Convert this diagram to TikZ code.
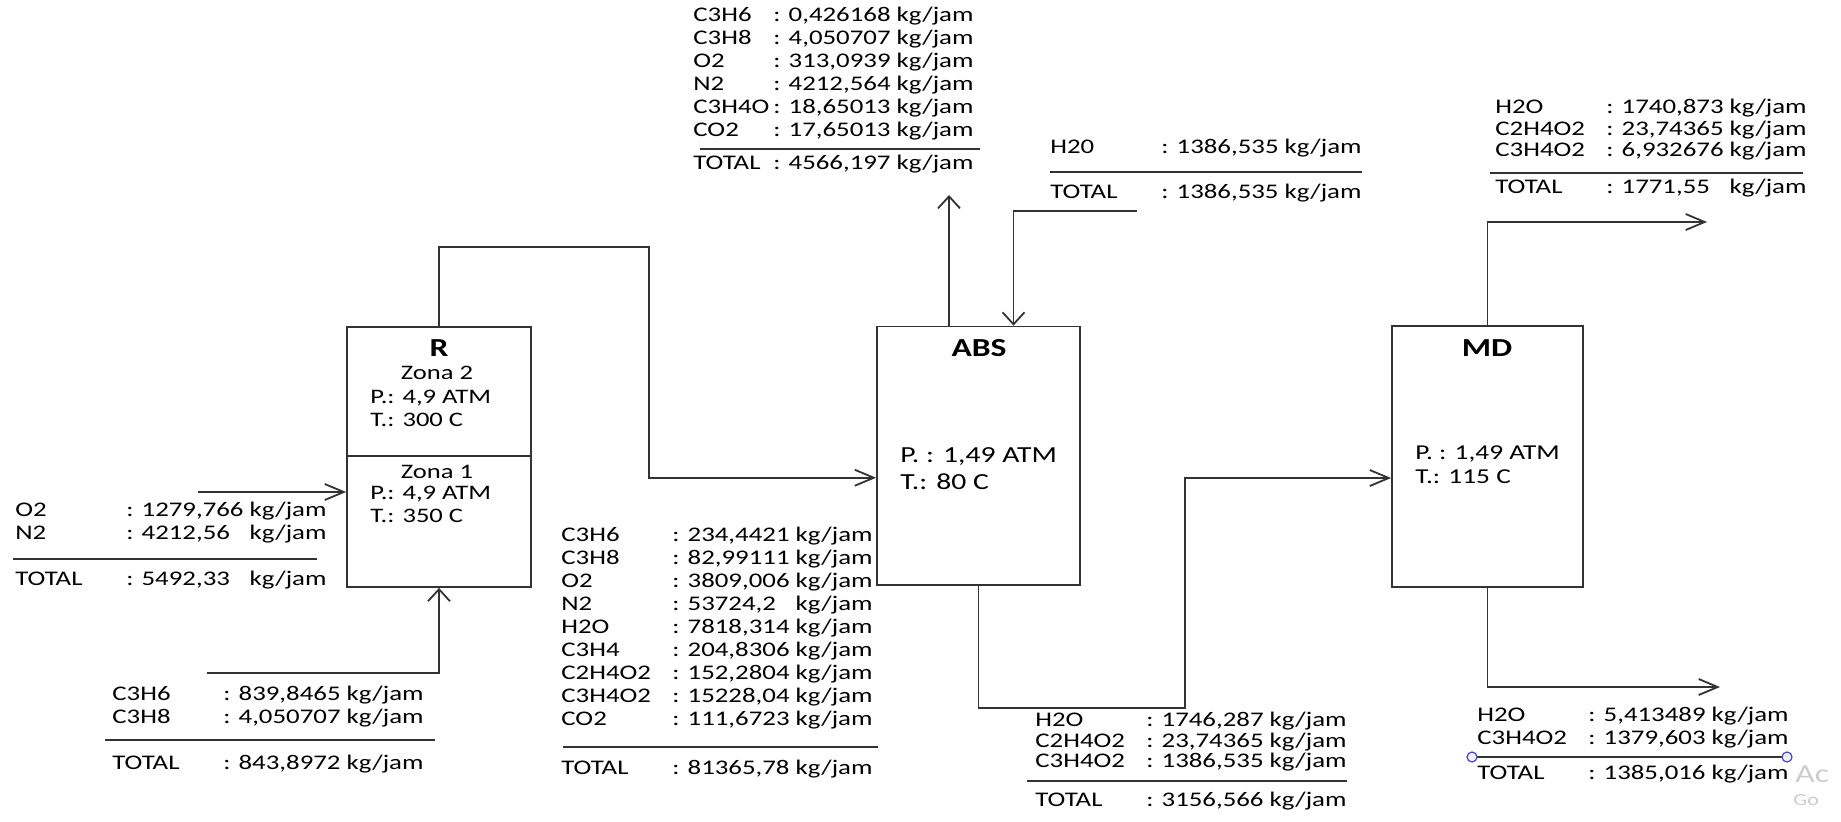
\documentclass[tikz,border=0pt]{standalone}
\usepackage{fontspec}
\setmainfont{Carlito}[FakeStretch=1.29]
\usetikzlibrary{arrows.meta,positioning,calc}
\definecolor{linec}{HTML}{333333}
\newcommand{\val}[1]{\rlap{#1}\phantom{0000,000}}

\begin{document}
\begin{tikzpicture}[
  x=0.5pt, y=-0.5pt,
  unit/.style={rectangle, draw=linec, line width=0.9pt, inner sep=0pt},
  title/.style={inner sep=0pt, anchor=base, font=\fontsize{13}{15}\selectfont\bfseries},
  zone/.style={inner sep=0pt, anchor=base, font=\fontsize{10.3}{11.5}\selectfont},
  cond/.style={inner sep=0pt, anchor=base west, font=\fontsize{10.3}{11.5}\selectfont},
  stream/.style={inner sep=0pt, anchor=base west, font=\fontsize{10.4}{11.5}\selectfont},
  rule/.style={draw=linec, line width=0.8pt},
  handle/.style={draw=blue!45!gray, fill=blue!6, line width=0.6pt},
  flowh/.style={draw=linec, line width=0.9pt, -{Straight Barb[length=9.5pt,width=8pt]}},
  flowv/.style={draw=linec, line width=0.9pt, -{Straight Barb[length=6pt,width=11pt]}},
]
\fill[white] (0,0) rectangle (1841,821);
\useasboundingbox (0,0) rectangle (1841,821);

%% Units
\node[unit, minimum width=92pt, minimum height=64.5pt] (R2) at (439,391.5) {};
\node[unit, minimum width=92pt, minimum height=65.5pt, below=-0.9pt of R2] (R1) {};
\node[unit, minimum width=101.5pt, minimum height=129.25pt] (ABS) at (978.5,455.75) {};
\node[unit, minimum width=95.5pt, minimum height=130.5pt] (MD) at (1487.5,456.5) {};

%% Unit texts
\node[title] (rT) at (439,356) {R};
\node[zone] (z2) at (437,379.5) {Zona 2};
\node[cond] (z2c) at (370,403.5) {\begin{tabular}[t]{@{}l@{}}P.: 4,9 ATM\\T.: 300 C\end{tabular}};
\node[zone] (z1) at (437,478.5) {Zona 1};
\node[cond] (z1c) at (370,499.5) {\begin{tabular}[t]{@{}l@{}}P.: 4,9 ATM\\T.: 350 C\end{tabular}};

\node[title] (absT) at (979,356) {ABS};
\node[cond, font=\fontsize{11.5}{13.5}\selectfont] (absC) at (900,462.5)
  {\begin{tabular}[t]{@{}l@{}}P. : 1,49 ATM\\T.: 80 C\end{tabular}};

\node[title] (mdT) at (1487,356) {MD};
\node[cond, font=\fontsize{10.6}{12}\selectfont] (mdC) at (1415,459.5)
  {\begin{tabular}[t]{@{}l@{}}P. : 1,49 ATM\\T.: 115 C\end{tabular}};

%% Stream ends
\coordinate (airIn)   at (198,492);
\coordinate (c3In)    at (207,673);
\coordinate (rOut)    at (649,247);
\coordinate (ventOut) at (949,195);
\coordinate (waterIn) at (1137,211);
\coordinate (absTurn) at (1185,708);
\coordinate (mdTop)   at (1707,222);
\coordinate (mdBot)   at (1720,687);

%% Streams
\draw[flowh] (airIn) -- (airIn -| R1.west);
\draw[flowv] (c3In) -| (R1.south);
\draw[flowh] (R2.north) |- (rOut) |- ($(ABS.west)+(0,22)$);
\draw[flowv] (ventOut |- ABS.north) -- (ventOut);
\draw[flowv] (waterIn) -| ($(ABS.north)+(35,0)$);
\draw[flowh] (ABS.south) |- (absTurn) |- ($(MD.west)+(0,21.5)$);
\draw[flowh] (MD.north) |- (mdTop);
\draw[flowh] (MD.south) |- (mdBot);

%% Vent gas (ABS top)
\node[stream] (vent) at (693,21.5) {\begin{tabular}[t]{@{}p{40pt}@{}l@{}}
C3H6  & : \val{0,426168} kg/jam\\
C3H8  & : \val{4,050707} kg/jam\\
O2    & : \val{313,0939} kg/jam\\
N2    & : \val{4212,564} kg/jam\\
C3H4O & : \val{18,65013} kg/jam\\
CO2   & : \val{17,65013} kg/jam
\end{tabular}};
\draw[rule] (700,149) -- (980,149);
\node[stream] (ventTot) at (693,169.5) {\makebox[40pt][l]{TOTAL}: \val{4566,197} kg/jam};

%% Water in
\node[stream] (water) at (1050,153.5) {\makebox[55.5pt][l]{H20}: \val{1386,535}\ kg/jam};
\draw[rule] (1050,172) -- (1362,172);
\node[stream] (waterTot) at (1050,198.5) {\makebox[55.5pt][l]{TOTAL}: \val{1386,535}\ kg/jam};

%% MD top product
\node[stream, font=\fontsize{10.4}{10.75}\selectfont] (top) at (1495,113.5) {\begin{tabular}[t]{@{}p{55.5pt}@{}l@{}}
H2O    & : \val{1740,873} kg/jam\\
C2H4O2 & : \val{23,74365} kg/jam\\
C3H4O2 & : \val{6,932676} kg/jam
\end{tabular}};
\draw[rule] (1490,173) -- (1803,173);
\node[stream] (topTot) at (1495,193.5) {\makebox[55.5pt][l]{TOTAL}: \val{1771,55} kg/jam};

%% Air feed
\node[stream] (air) at (15,516.5) {\begin{tabular}[t]{@{}p{55.5pt}@{}l@{}}
O2 & : \val{1279,766} kg/jam\\
N2 & : \val{4212,56} kg/jam
\end{tabular}};
\draw[rule] (13,559) -- (317,559);
\node[stream] (airTot) at (15,585.5) {\makebox[55.5pt][l]{TOTAL}: \val{5492,33} kg/jam};

%% Propylene feed
\node[stream] (feed) at (112,700.5) {\begin{tabular}[t]{@{}p{55.5pt}@{}l@{}}
C3H6 & : \val{839,8465} kg/jam\\
C3H8 & : \val{4,050707} kg/jam
\end{tabular}};
\draw[rule] (105,740) -- (435,740);
\node[stream] (feedTot) at (112,769.5) {\makebox[55.5pt][l]{TOTAL}: \val{843,8972} kg/jam};

%% Reactor outlet
\node[stream] (rgas) at (561,541.5) {\begin{tabular}[t]{@{}p{55.5pt}@{}l@{}}
C3H6   & : \val{234,4421} kg/jam\\
C3H8   & : \val{82,99111} kg/jam\\
O2     & : \val{3809,006} kg/jam\\
N2     & : \val{53724,2} kg/jam\\
H2O    & : \val{7818,314} kg/jam\\
C3H4   & : \val{204,8306} kg/jam\\
C2H4O2 & : \val{152,2804} kg/jam\\
C3H4O2 & : \val{15228,04} kg/jam\\
CO2    & : \val{111,6723} kg/jam
\end{tabular}};
\draw[rule] (563,747) -- (878,747);
\node[stream] (rgasTot) at (561,774.5) {\makebox[55.5pt][l]{TOTAL}: \val{81365,78} kg/jam};

%% ABS bottom
\node[stream, font=\fontsize{10.4}{10.25}\selectfont] (absb) at (1035,726.5) {\begin{tabular}[t]{@{}p{55.5pt}@{}l@{}}
H2O    & : \val{1746,287} kg/jam\\
C2H4O2 & : \val{23,74365} kg/jam\\
C3H4O2 & : \val{1386,535} kg/jam
\end{tabular}};
\draw[rule] (1027,781) -- (1347,781);
\node[stream] (absbTot) at (1035,806.5) {\makebox[55.5pt][l]{TOTAL}: \val{3156,566} kg/jam};

%% MD bottom product
\node[stream] (bot) at (1477,721.5) {\begin{tabular}[t]{@{}p{55.5pt}@{}l@{}}
H2O    & : \val{5,413489} kg/jam\\
C3H4O2 & : \val{1379,603} kg/jam
\end{tabular}};
\draw[rule] (1472,757) -- (1787,757);
\draw[handle] (1472,757) circle (2.5pt);
\draw[handle] (1787,757) circle (2.5pt);
\node[stream] (botTot) at (1477,779.5) {\makebox[55.5pt][l]{TOTAL}: \val{1385,016} kg/jam};

%% Screen watermark (cut by the page edge)
\node[stream, text=gray!40, font=\fontsize{13}{15}\selectfont] (wm1) at (1795,782) {Ac};
\node[stream, text=gray!40, font=\fontsize{8.5}{10}\selectfont] (wm2) at (1793,805.5) {Go};

\end{tikzpicture}
\end{document}
